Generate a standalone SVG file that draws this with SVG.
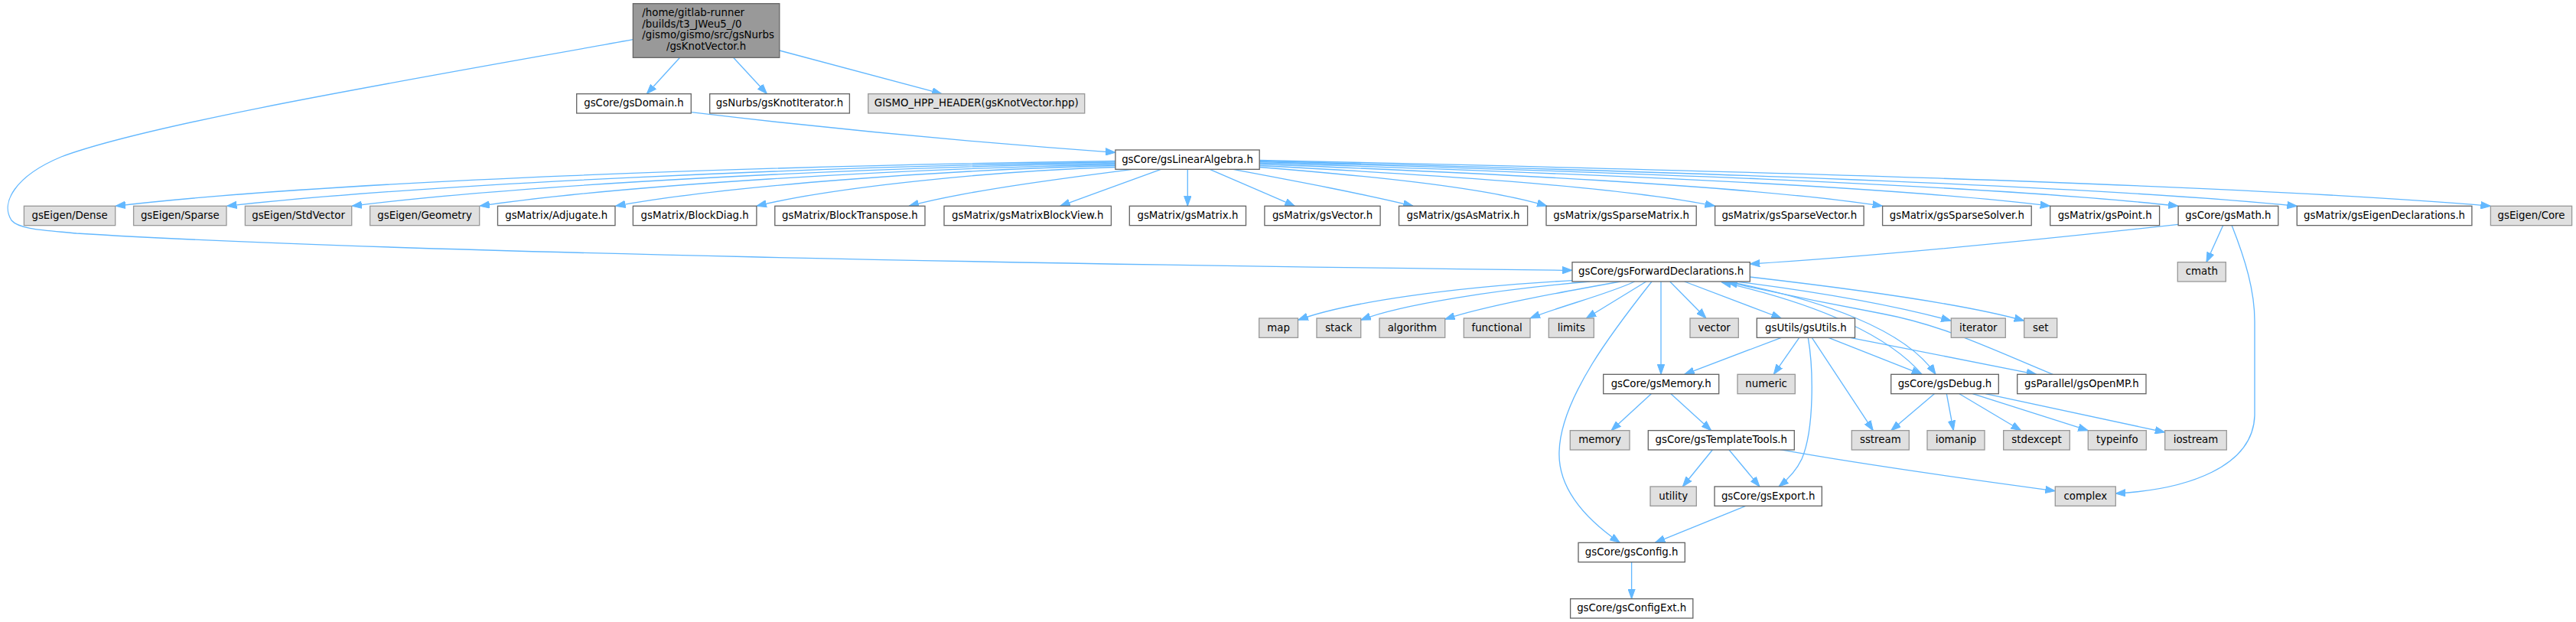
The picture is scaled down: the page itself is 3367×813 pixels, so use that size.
<svg xmlns="http://www.w3.org/2000/svg" width="3367" height="813" viewBox="0 0 3367 813">
<style>
.n rect{fill:#ffffff;stroke:#666666;stroke-width:1.33}
.g rect{fill:#e0e0e0;stroke:#999999;stroke-width:1.33}
.r rect{fill:#999999;stroke:#666666;stroke-width:1.33}
text{font-family:"DejaVu Sans",sans-serif;font-size:13.33px;fill:#000000;text-anchor:middle}
text.l{text-anchor:start}
#edges path{fill:none;stroke:#63b8ff;stroke-width:1.33;marker-end:url(#a)}
</style>
<defs>
<marker id="a" viewBox="0 0 13 10" refX="13" refY="5" markerWidth="13" markerHeight="10" markerUnits="userSpaceOnUse" orient="auto"><path d="M0,0.3 L13,5 L0,9.7 z" fill="#63b8ff" stroke="#63b8ff" stroke-width="1"/></marker>
</defs>
<rect width="3367" height="813" fill="#ffffff"/>
<g id="edges">
<path d="M888.6,75.3 L845.3,122.7"/>
<path d="M958.6,75.3 L1002.5,122.7"/>
<path d="M1018.8,66 L1231.2,122.7"/>
<path d="M827.4,51.7 C560,100 200,160 80,205 C20,230 0,265 15,288 C25,300 60,301 100,305 C500,330 1400,346 2055,353.3"/>
<path d="M903.3,146.7 C1100,170 1300,188 1457.9,199.3"/>
<path d="M1457.9,210.5 C1013.5,216.4 438,236 151,269.3"/>
<path d="M1457.9,212 C1063,217.7 552,240.7 296.5,269.3"/>
<path d="M1457.9,213.5 C1118.6,219.1 679.5,241.4 460,269.3"/>
<path d="M1457.9,215 C1175.4,220.4 809.8,242.2 627,269.3"/>
<path d="M1457.9,216.5 C1235.7,221.8 948.2,242.9 804.5,269.3"/>
<path d="M1457.9,218.5 C1298.5,223.6 1092.2,243.9 989,269.3"/>
<path d="M1480.6,221.3 C1381,234 1260,250 1188,269.3"/>
<path d="M1517.4,221.3 L1385.7,269.3"/>
<path d="M1552.3,221.3 L1552.3,269.3"/>
<path d="M1581.3,221.3 L1692.4,269.3"/>
<path d="M1611,221.3 C1700,238 1780,253 1847,269.3"/>
<path d="M1646.3,218.5 C1774,228.7 1939,243.9 2022,269.3"/>
<path d="M1646.3,216.5 C1848.7,227 2110.6,242.9 2241.6,269.3"/>
<path d="M1646.3,214.5 C1923.2,225.5 2281.5,241.9 2460.6,269.3"/>
<path d="M1646.3,213 C1997.7,224.3 2452.4,241.2 2679.7,269.3"/>
<path d="M1646.3,211.5 C2054.6,223.1 2582.9,240.4 2847.1,269.3"/>
<path d="M1646.3,210.5 C2107.3,222.3 2704,239.9 3002.3,269.3"/>
<path d="M1646.3,209.5 C2193.4,221.5 2901.4,239.4 3255.4,269.3"/>
<path d="M2905.6,294.7 L2883.9,342.7"/>
<path d="M2917.2,294.7 C2935,340 2947,380 2947,420 L2947,543 C2945,610 2860,640 2765.3,645"/>
<path d="M2847.1,293.3 C2650,315 2450,335 2287.3,345"/>
<path d="M2055,366.7 C1900,375 1760,395 1696.7,418.3"/>
<path d="M2078,368 C1960,378 1830,398 1778.7,418.3"/>
<path d="M2118,368 C2040,382 1940,400 1888.7,417.3"/>
<path d="M2136.7,368 C2100,385 2040,400 2000,416"/>
<path d="M2151.7,368 L2073.3,416"/>
<path d="M2159,368 C2110,430 2040,520 2038,590 C2036,640 2075,680 2117.3,709.3"/>
<path d="M2171,368 L2171,489.3"/>
<path d="M2182.7,368 L2230,416"/>
<path d="M2201.7,368 L2328.3,416"/>
<path d="M2270,368 C2380,382 2480,400 2550.3,419.3"/>
<path d="M2287.3,362 C2400,375 2560,395 2645.7,419.3"/>
<path d="M2262,368.7 C2380,392 2490,430 2530,489.3"/>
<path d="M2512,489.3 C2470,440 2380,398 2250,368.7"/>
<path d="M2683.3,489.3 C2600,455 2540,425 2460,410 C2380,395 2300,378 2258,368.7"/>
<path d="M2328.3,441.3 L2201.7,489.3"/>
<path d="M2351.7,441.3 L2318.3,489.3"/>
<path d="M2363.3,441.3 C2370,480 2372,560 2355,600 C2348,615 2335,628 2325,636"/>
<path d="M2368.3,441.3 L2448.3,562.7"/>
<path d="M2390,441.3 L2511.7,489.3"/>
<path d="M2418.3,441.3 L2661.7,489.3"/>
<path d="M2158.3,514.7 L2106,562.7"/>
<path d="M2184,514.7 L2236.7,562.7"/>
<path d="M2238.3,588 L2199.3,636"/>
<path d="M2260,588 L2300,636"/>
<path d="M2326.7,587.7 C2450,610 2600,630 2686.3,641.7"/>
<path d="M2528.3,514.7 L2471.7,562.7"/>
<path d="M2544.3,514.7 L2553.3,562.7"/>
<path d="M2561,514.7 L2641.7,562.7"/>
<path d="M2578.3,514.7 L2729.3,562.7"/>
<path d="M2595,514.7 L2829.7,565"/>
<path d="M2281.7,661.3 L2163.3,709.3"/>
<path d="M2132.6,734.7 L2132.6,782.7"/>
</g>
<g id="n0" class="r"><rect x="827.4" y="4.7" width="191.4" height="70.6"/><text class="l" x="839.3" y="21">/home/gitlab-runner</text><text class="l" x="839.3" y="35.67">/builds/t3_JWeu5_/0</text><text class="l" x="839.3" y="50.33">/gismo/gismo/src/gsNurbs</text><text x="923.1" y="65">/gsKnotVector.h</text></g>
<g id="n1" class="n"><rect x="753.7" y="122.67" width="149.6" height="25.33"/><text x="828.5" y="139.33">gsCore/gsDomain.h</text></g>
<g id="n2" class="n"><rect x="927.7" y="122.67" width="182.7" height="25.33"/><text x="1019.05" y="139.33">gsNurbs/gsKnotIterator.h</text></g>
<g id="n3" class="g"><rect x="1134.8" y="122.67" width="282.9" height="25.33"/><text x="1276.25" y="139.33">GISMO_HPP_HEADER(gsKnotVector.hpp)</text></g>
<g id="n4" class="n"><rect x="1457.9" y="196" width="188.3" height="25.33"/><text x="1552.05" y="212.67">gsCore/gsLinearAlgebra.h</text></g>
<g id="n5" class="g"><rect x="31.4" y="269.33" width="119.3" height="25.33"/><text x="91.05" y="286">gsEigen/Dense</text></g>
<g id="n6" class="g"><rect x="174.6" y="269.33" width="121.4" height="25.33"/><text x="235.3" y="286">gsEigen/Sparse</text></g>
<g id="n7" class="g"><rect x="320.4" y="269.33" width="139.3" height="25.33"/><text x="390.05" y="286">gsEigen/StdVector</text></g>
<g id="n8" class="g"><rect x="483.6" y="269.33" width="143.1" height="25.33"/><text x="555.15" y="286">gsEigen/Geometry</text></g>
<g id="n9" class="n"><rect x="650.5" y="269.33" width="153.5" height="25.33"/><text x="727.25" y="286">gsMatrix/Adjugate.h</text></g>
<g id="n10" class="n"><rect x="827.4" y="269.33" width="161.5" height="25.33"/><text x="908.15" y="286">gsMatrix/BlockDiag.h</text></g>
<g id="n11" class="n"><rect x="1012.8" y="269.33" width="196.2" height="25.33"/><text x="1110.9" y="286">gsMatrix/BlockTranspose.h</text></g>
<g id="n12" class="n"><rect x="1234" y="269.33" width="218.4" height="25.33"/><text x="1343.2" y="286">gsMatrix/gsMatrixBlockView.h</text></g>
<g id="n13" class="n"><rect x="1476.3" y="269.33" width="152.2" height="25.33"/><text x="1552.4" y="286">gsMatrix/gsMatrix.h</text></g>
<g id="n14" class="n"><rect x="1652.9" y="269.33" width="151.2" height="25.33"/><text x="1728.5" y="286">gsMatrix/gsVector.h</text></g>
<g id="n15" class="n"><rect x="1828.5" y="269.33" width="168.1" height="25.33"/><text x="1912.55" y="286">gsMatrix/gsAsMatrix.h</text></g>
<g id="n16" class="n"><rect x="2021" y="269.33" width="196.2" height="25.33"/><text x="2119.1" y="286">gsMatrix/gsSparseMatrix.h</text></g>
<g id="n17" class="n"><rect x="2241.6" y="269.33" width="194.5" height="25.33"/><text x="2338.85" y="286">gsMatrix/gsSparseVector.h</text></g>
<g id="n18" class="n"><rect x="2460.6" y="269.33" width="194.6" height="25.33"/><text x="2557.9" y="286">gsMatrix/gsSparseSolver.h</text></g>
<g id="n19" class="n"><rect x="2679.7" y="269.33" width="142.9" height="25.33"/><text x="2751.15" y="286">gsMatrix/gsPoint.h</text></g>
<g id="n20" class="n"><rect x="2847.1" y="269.33" width="130.7" height="25.33"/><text x="2912.45" y="286">gsCore/gsMath.h</text></g>
<g id="n21" class="n"><rect x="3002.3" y="269.33" width="228.6" height="25.33"/><text x="3116.6" y="286">gsMatrix/gsEigenDeclarations.h</text></g>
<g id="n22" class="g"><rect x="3255.4" y="269.33" width="106.2" height="25.33"/><text x="3308.5" y="286">gsEigen/Core</text></g>
<g id="n23" class="n"><rect x="2055" y="342.67" width="232.3" height="25.33"/><text x="2171.15" y="359.33">gsCore/gsForwardDeclarations.h</text></g>
<g id="n24" class="g"><rect x="2846.3" y="342.67" width="63" height="25.33"/><text x="2877.8" y="359.33">cmath</text></g>
<g id="n25" class="g"><rect x="1645.7" y="416" width="50.8" height="25.33"/><text x="1671.1" y="432.67">map</text></g>
<g id="n26" class="g"><rect x="1721" y="416" width="57.7" height="25.33"/><text x="1749.85" y="432.67">stack</text></g>
<g id="n27" class="g"><rect x="1803" y="416" width="85.7" height="25.33"/><text x="1845.85" y="432.67">algorithm</text></g>
<g id="n28" class="g"><rect x="1913.3" y="416" width="86.7" height="25.33"/><text x="1956.65" y="432.67">functional</text></g>
<g id="n29" class="g"><rect x="2024.3" y="416" width="59" height="25.33"/><text x="2053.8" y="432.67">limits</text></g>
<g id="n30" class="g"><rect x="2209" y="416" width="63.3" height="25.33"/><text x="2240.65" y="432.67">vector</text></g>
<g id="n31" class="n"><rect x="2296.3" y="416" width="128.2" height="25.33"/><text x="2360.4" y="432.67">gsUtils/gsUtils.h</text></g>
<g id="n32" class="g"><rect x="2550.3" y="416" width="71" height="25.33"/><text x="2585.8" y="432.67">iterator</text></g>
<g id="n33" class="g"><rect x="2645.7" y="416" width="43" height="25.33"/><text x="2667.2" y="432.67">set</text></g>
<g id="n34" class="n"><rect x="2095.7" y="489.33" width="151" height="25.33"/><text x="2171.2" y="506">gsCore/gsMemory.h</text></g>
<g id="n35" class="g"><rect x="2271" y="489.33" width="75.3" height="25.33"/><text x="2308.65" y="506">numeric</text></g>
<g id="n36" class="n"><rect x="2471.7" y="489.33" width="140.6" height="25.33"/><text x="2542" y="506">gsCore/gsDebug.h</text></g>
<g id="n37" class="n"><rect x="2636.7" y="489.33" width="168.3" height="25.33"/><text x="2720.85" y="506">gsParallel/gsOpenMP.h</text></g>
<g id="n38" class="g"><rect x="2052.3" y="562.67" width="77.7" height="25.33"/><text x="2091.15" y="579.33">memory</text></g>
<g id="n39" class="n"><rect x="2154.3" y="562.67" width="191" height="25.33"/><text x="2249.8" y="579.33">gsCore/gsTemplateTools.h</text></g>
<g id="n40" class="g"><rect x="2420.3" y="562.67" width="75" height="25.33"/><text x="2457.8" y="579.33">sstream</text></g>
<g id="n41" class="g"><rect x="2519" y="562.67" width="75" height="25.33"/><text x="2556.5" y="579.33">iomanip</text></g>
<g id="n42" class="g"><rect x="2618.7" y="562.67" width="86.6" height="25.33"/><text x="2662" y="579.33">stdexcept</text></g>
<g id="n43" class="g"><rect x="2729.3" y="562.67" width="76" height="25.33"/><text x="2767.3" y="579.33">typeinfo</text></g>
<g id="n44" class="g"><rect x="2829.7" y="562.67" width="80.6" height="25.33"/><text x="2870" y="579.33">iostream</text></g>
<g id="n45" class="g"><rect x="2157" y="636" width="60.3" height="25.33"/><text x="2187.15" y="652.67">utility</text></g>
<g id="n46" class="n"><rect x="2241" y="636" width="140.3" height="25.33"/><text x="2311.15" y="652.67">gsCore/gsExport.h</text></g>
<g id="n47" class="g"><rect x="2686.3" y="636" width="79" height="25.33"/><text x="2725.8" y="652.67">complex</text></g>
<g id="n48" class="n"><rect x="2063" y="709.33" width="139.3" height="25.33"/><text x="2132.65" y="726">gsCore/gsConfig.h</text></g>
<g id="n49" class="n"><rect x="2052.6" y="782.67" width="160.2" height="25.33"/><text x="2132.7" y="799.33">gsCore/gsConfigExt.h</text></g>
</svg>
